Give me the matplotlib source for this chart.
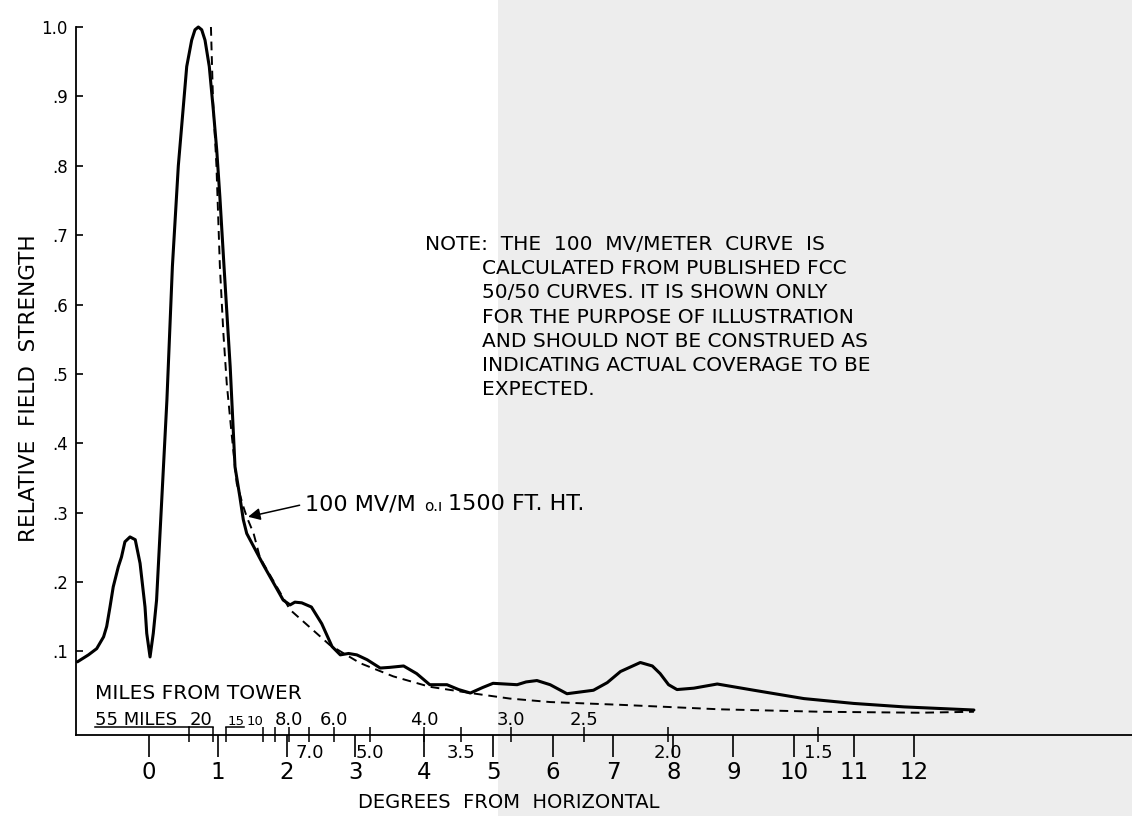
import numpy as np
import matplotlib
matplotlib.use('Agg')
import matplotlib.pyplot as plt
from matplotlib.patches import Rectangle
from matplotlib.lines import Line2D

# Vertical pattern, relative field strength
deg_pattern = [-1.04, -0.88, -0.76, -0.66, -0.615, -0.567, -0.52, -0.446, -0.40,
               -0.35, -0.276, -0.20, -0.13, -0.058, -0.033, 0.015, 0.062, 0.11,
               0.26, 0.34, 0.426, 0.548, 0.62, 0.668, 0.717, 0.766, 0.814, 0.876,
               0.935, 0.984, 1.03, 1.09, 1.18, 1.25, 1.32, 1.37, 1.42, 1.66, 1.95,
               2.05, 2.12, 2.22, 2.36, 2.51, 2.66, 2.78, 2.90, 3.02, 3.17, 3.36,
               3.50, 3.70, 3.89, 4.08, 4.33, 4.50, 4.67, 4.85, 5.00, 5.20, 5.40,
               5.55, 5.73, 5.95, 6.23, 6.67, 6.90, 7.12, 7.45, 7.65, 7.78, 7.92,
               8.06, 8.34, 8.73, 9.34, 10.17, 11.0, 11.84, 13.0]
field_pattern = [0.085, 0.095, 0.104, 0.121, 0.136, 0.164, 0.193, 0.222, 0.236,
                 0.258, 0.265, 0.261, 0.227, 0.164, 0.126, 0.092, 0.126, 0.174,
                 0.462, 0.655, 0.80, 0.943, 0.981, 0.996, 1.0, 0.996, 0.981, 0.943,
                 0.880, 0.823, 0.755, 0.655, 0.51, 0.366, 0.323, 0.290, 0.270, 0.225,
                 0.174, 0.167, 0.171, 0.170, 0.164, 0.140, 0.107, 0.095, 0.097,
                 0.095, 0.088, 0.076, 0.077, 0.079, 0.068, 0.052, 0.052, 0.045,
                 0.040, 0.048, 0.054, 0.053, 0.052, 0.056, 0.058, 0.052, 0.039,
                 0.044, 0.055, 0.071, 0.084, 0.079, 0.068, 0.052, 0.045, 0.047,
                 0.053, 0.044, 0.032, 0.025, 0.020, 0.0155]

# 100 mV/m curve from FCC 50/50 curves, 1500 ft height
deg_fcc = [0.90, 0.93, 0.98, 1.03, 1.08, 1.13, 1.20, 1.275, 1.37, 1.42, 1.52,
           1.61, 1.66, 2.05, 2.63, 3.07, 3.55, 4.08, 4.67, 5.28, 5.95, 7.12,
           8.78, 10.45, 12.1, 13.0]
field_fcc = [1.0, 0.895, 0.80, 0.655, 0.56, 0.486, 0.414, 0.342, 0.309, 0.294,
             0.270, 0.236, 0.227, 0.160, 0.109, 0.083, 0.064, 0.049, 0.040,
             0.032, 0.027, 0.023, 0.0165, 0.013, 0.0116, 0.013]

deg_ticks = list(range(0, 13))
y_ticks = [0.1, 0.2, 0.3, 0.4, 0.5, 0.6, 0.7, 0.8, 0.9, 1.0]
y_ticklabels = ['.1', '.2', '.3', '.4', '.5', '.6', '.7', '.8', '.9', '1.0']

# miles-from-tower scale, as degrees on the same axis
miles_above = ['55 MILES', '20', '15', '10', '', '8.0', '6.0', '4.0', '3.0', '2.5']
miles_above_deg = [0.58, 0.93, 1.12, 1.66, 1.83, 2.03, 2.69, 4.0, 5.30, 6.51]
miles_below = ['7.0', '5.0', '3.5', '2.0', '1.5']
miles_below_deg = [2.33, 3.21, 4.53, 7.91, 10.41]

note_lines = ['NOTE:  THE  100  MV/METER  CURVE  IS',
              'CALCULATED FROM PUBLISHED FCC',
              '50/50 CURVES. IT IS SHOWN ONLY',
              'FOR THE PURPOSE OF ILLUSTRATION',
              'AND SHOULD NOT BE CONSTRUED AS',
              'INDICATING ACTUAL COVERAGE TO BE',
              'EXPECTED.']

W, H = 1132, 816
PX = 72 / 100  # points per pixel

# the scan is stretched: 0-5 deg is wider than 5-12 deg
R = 60.1 / 68.8
def fwd(x):
    x = np.asarray(x, float)
    return np.where(x <= 5, x, 5 + (x - 5) * R)
def inv(t):
    t = np.asarray(t, float)
    return np.where(t <= 5, t, 5 + (t - 5) / R)

def main():
    fig = plt.figure(figsize=(W / 100, H / 100), dpi=100)
    fig.patch.set_facecolor('white')
    fig.add_artist(Rectangle((498 / W, 0), 1 - 498 / W, 1, transform=fig.transFigure,
                             facecolor='#ededed', edgecolor='none', zorder=0))

    ax = fig.add_axes([76 / W, 1 - 735 / H, 1 - 76 / W, 708 / H])
    ax.set_facecolor('none')
    ax.set_xscale('function', functions=(fwd, inv))
    ax.set_xlim(-1.061, 15.63)
    ax.set_ylim(-0.0205, 1.0)

    ax.plot(deg_pattern, field_pattern, color='black', lw=2.2, clip_on=False,
            solid_joinstyle='round', solid_capstyle='round')
    ax.plot(deg_fcc, field_fcc, color='black', lw=1.4, ls=(0, (4.5, 3)), clip_on=False)

    for s in ['top', 'right']:
        ax.spines[s].set_visible(False)
    ax.spines['left'].set_linewidth(1.3)
    ax.spines['bottom'].set_linewidth(1.3)

    ax.set_xticks(deg_ticks, [str(d) for d in deg_ticks])
    ax.xaxis.set_minor_locator(plt.NullLocator())
    ax.tick_params(axis='x', direction='out', length=16, width=1.2, pad=3, labelsize=16.5)
    ax.set_yticks(y_ticks, y_ticklabels)
    ax.tick_params(axis='y', direction='in', length=5, width=1.2, pad=6, labelsize=12)

    # miles scale ticks across the axis line
    tr = ax.get_xaxis_transform()
    ax.vlines(miles_above_deg + miles_below_deg, -7 / 708, 8 / 708, transform=tr,
              color='black', lw=1.1, clip_on=False)
    side = {'55 MILES': ('right', -12, 13), '20': ('right', -1, 13),
            '15': ('left', 1, 9.5), '10': ('right', 0, 9.5)}
    bracketed = []
    for lab, d in zip(miles_above, miles_above_deg):
        if not lab:
            continue
        ha, dx, fs = side.get(lab, ('center', 0, 13))
        t = ax.annotate(lab, xy=(d, 0), xycoords=tr, xytext=(dx * PX, 10 * PX),
                        textcoords='offset points', ha=ha, va='baseline', fontsize=fs)
        if lab in side:
            bracketed.append((t, d))
    for lab, d in zip(miles_below, miles_below_deg):
        ax.annotate(lab, xy=(d, 0), xycoords=tr, xytext=(0, -23 * PX),
                    textcoords='offset points', ha='center', va='baseline', fontsize=13)
    fig.text(95 / W, 1 - 699 / H, 'MILES FROM TOWER', fontsize=14.5, va='baseline')

    # arrow label for the FCC curve
    a1 = ax.text((305 - 149) / 68.8, 0.3038, '100 MV/M', fontsize=16,
                 va='baseline', ha='left')
    ax.annotate('', xy=(1.44, 0.294), xytext=(0, 0.5), textcoords=a1,
                arrowprops=dict(arrowstyle='-|>', color='black', lw=1.1,
                                mutation_scale=18, shrinkA=4, shrinkB=0))
    a2 = ax.annotate('o.ı', xy=(1, 0), xycoords=a1, xytext=(8 * PX, 0),
                     textcoords='offset points', fontsize=11, va='bottom')
    ax.annotate('1500 FT. HT.', xy=(1, 0), xycoords=a2, xytext=(6 * PX, 0),
                textcoords='offset points', fontsize=16, va='bottom')

    for i, line in enumerate(note_lines):
        x = 425 if i == 0 else 482
        fig.text(x / W, 1 - (250 + i * 24.2) / H, line, fontsize=14.5, va='baseline')

    fig.text(29 / W, 1 - 388 / H, 'RELATIVE  FIELD  STRENGTH', rotation=90,
             fontsize=15.5, ha='center', va='center')
    fig.text(509 / W, 1 - 803 / H, 'DEGREES  FROM  HORIZONTAL', fontsize=14,
             ha='center', va='center')

    # underline brackets for the first few mileage labels
    fig.canvas.draw()
    rend = fig.canvas.get_renderer()
    y_line = ax.transAxes.transform((0, 0))[1] + 8
    for t, d in bracketed:
        bb = t.get_window_extent(rend)
        xt = ax.transData.transform((d, 0))[0]
        x0, x1 = (bb.x0, xt) if xt > bb.x1 else (xt, bb.x1)
        fig.add_artist(Line2D(np.array([x0, x1]) / W, np.array([y_line, y_line]) / H,
                              transform=fig.transFigure, color='black', lw=1.1))

    fig.savefig('out.png', dpi=100)

if __name__ == '__main__':
    main()
